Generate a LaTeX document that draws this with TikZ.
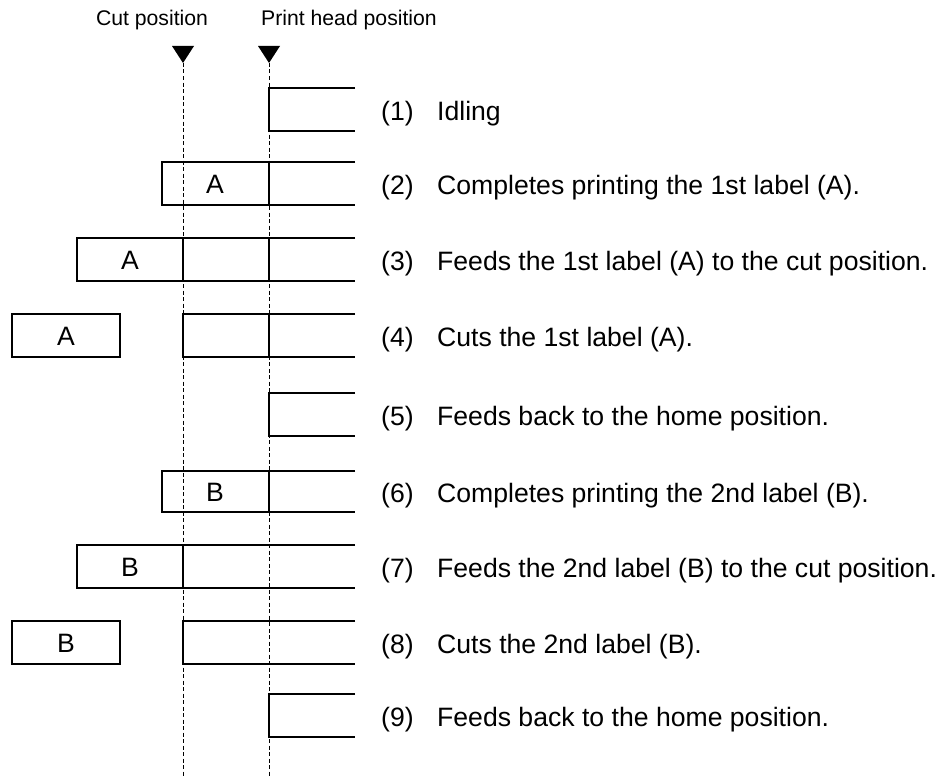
\documentclass[tikz,border=0pt]{standalone}
\usepackage{fontspec}
\setmainfont{Liberation Sans}
\begin{document}
\begin{tikzpicture}[x=1pt,y=-1pt,
  strip/.style={line width=1.5pt},
  guide/.style={line width=1pt,dash pattern=on 4pt off 2.5pt},
  marker/.style={fill=black},
  head/.style={font=\fontsize{21.2}{25}\selectfont,inner sep=0pt},
  mtext/.style={font=\fontsize{26.6}{30}\selectfont,inner sep=0pt,anchor=base west},
  ltext/.style={font=\fontsize{26.6}{30}\selectfont,inner sep=0pt}]
\useasboundingbox (0,0) rectangle (950,776);
% headers
\node[head] (hcut) at (152,20) {Cut position};
\node[head] (hprint) at (349,20) {Print head position};
% guide lines
\coordinate (ctop) at (183,63);
\coordinate (cbot) at (183,776);
\coordinate (ptop) at (269,63);
\coordinate (pbot) at (269,776);
\draw[guide] (ctop) -- (cbot);
\draw[guide] (ptop) -- (pbot);
\fill[marker] (172,46) -- (194,46) -- (ctop) -- cycle;
\fill[marker] (258,46) -- (280,46) -- (ptop) -- cycle;
% row 1
\draw[strip] (355,88) -- (269,88) -- (269,131) -- (355,131);
% row 2
\draw[strip] (355,162) -- (162,162) -- (162,205) -- (355,205);
\draw[strip] (269,162) -- (269,205);
\node[ltext] (a2) at (215,184.5) {A};
% row 3
\draw[strip] (355,238) -- (77,238) -- (77,281) -- (355,281);
\draw[strip] (183,238) -- (183,281);
\draw[strip] (269,238) -- (269,281);
\node[ltext] (a3) at (130,260.5) {A};
% row 4
\draw[strip] (12,314) rectangle (120,357);
\node[ltext] (a4) at (66,336.5) {A};
\draw[strip] (355,314) -- (183,314) -- (183,357) -- (355,357);
\draw[strip] (269,314) -- (269,357);
% row 5
\draw[strip] (355,393) -- (269,393) -- (269,436) -- (355,436);
% row 6
\draw[strip] (355,471) -- (162,471) -- (162,512) -- (355,512);
\draw[strip] (269,471) -- (269,512);
\node[ltext] (b6) at (215,492.5) {B};
% row 7
\draw[strip] (355,545) -- (77,545) -- (77,588) -- (355,588);
\draw[strip] (183,545) -- (183,588);
\node[ltext] (b7) at (130,567.5) {B};
% row 8
\draw[strip] (12,621) rectangle (120,664);
\node[ltext] (b8) at (66,643.5) {B};
\draw[strip] (355,621) -- (183,621) -- (183,664) -- (355,664);
% row 9
\draw[strip] (355,694) -- (269,694) -- (269,737) -- (355,737);
% texts
\foreach \n/\y/\t in {1/109.5/Idling,
  2/183.5/Completes printing the 1st label (A).,
  3/259.5/Feeds the 1st label (A) to the cut position.,
  4/335.5/Cuts the 1st label (A).,
  5/414.5/Feeds back to the home position.,
  6/491.5/Completes printing the 2nd label (B).,
  7/566.5/Feeds the 2nd label (B) to the cut position.,
  8/642.5/Cuts the 2nd label (B).,
  9/715.5/Feeds back to the home position.}{
  \node[mtext] (num\n) at (381,\y+10.8) {(\n)};
  \node[mtext] (txt\n) at (437,\y+10.8) {\t};
}
\end{tikzpicture}
\end{document}
